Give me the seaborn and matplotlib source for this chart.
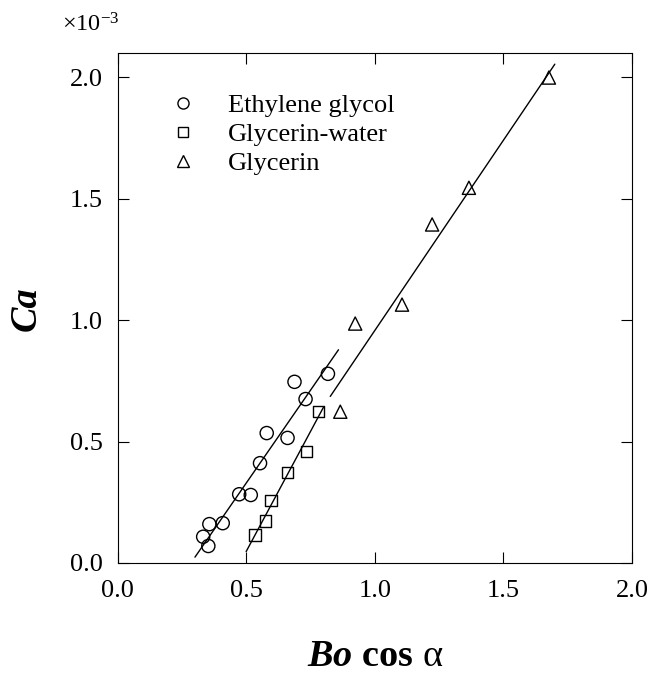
import matplotlib
matplotlib.use('Agg')
import matplotlib.pyplot as plt
import seaborn as sns
from matplotlib.lines import Line2D

# ---- data (Ca values in units of 1e-3) ----
eg_x = [0.818, 0.688, 0.731, 0.580, 0.661, 0.554, 0.473, 0.518, 0.357, 0.409, 0.333, 0.353]
eg_y = [0.779, 0.746, 0.675, 0.535, 0.515, 0.411, 0.283, 0.280, 0.160, 0.164, 0.108, 0.070]

gw_x = [0.535, 0.575, 0.597, 0.661, 0.734, 0.782]
gw_y = [0.114, 0.172, 0.257, 0.372, 0.459, 0.624]

gl_x = [0.866, 0.924, 1.106, 1.223, 1.366, 1.677]
gl_y = [0.623, 0.986, 1.064, 1.394, 1.545, 1.999]

# fitted lines (end points)
eg_line_x = [0.301, 0.859]
eg_line_y = [0.024, 0.878]
gw_line_x = [0.500, 0.801]
gw_line_y = [0.047, 0.642]
gl_line_x = [0.827, 1.700]
gl_line_y = [0.686, 2.054]

labels = ["Ethylene glycol", "Glycerin-water", "Glycerin"]
xticks = [0.0, 0.5, 1.0, 1.5, 2.0]
yticks = [0.0, 0.5, 1.0, 1.5, 2.0]

sns.set_theme(style='ticks')
plt.rcParams['font.family'] = ['Liberation Serif', 'DejaVu Serif']
plt.rcParams['mathtext.fontset'] = 'custom'
plt.rcParams['mathtext.rm'] = 'Liberation Serif'
plt.rcParams['mathtext.it'] = 'Liberation Serif:italic'
plt.rcParams['mathtext.bf'] = 'Liberation Serif:bold'
plt.rcParams['mathtext.bfit'] = 'Liberation Serif:italic:bold'
for k in ['text.color', 'axes.labelcolor', 'xtick.color', 'ytick.color',
          'axes.edgecolor']:
    plt.rcParams[k] = 'black'

fig = plt.figure(figsize=(6.5, 6.77), dpi=100)
ax = fig.add_axes([0.1808, 0.1684, 0.7915, 0.7533])

line_kw = dict(color='black', linewidth=1.0, ax=ax, legend=False)
sns.lineplot(x=eg_line_x, y=eg_line_y, **line_kw)
sns.lineplot(x=gw_line_x, y=gw_line_y, **line_kw)
sns.lineplot(x=gl_line_x, y=gl_line_y, **line_kw)

sc_kw = dict(facecolor='none', edgecolor='black', linewidth=1.0, ax=ax, legend=False, zorder=3)
sns.scatterplot(x=eg_x, y=eg_y, marker='o', s=90, **sc_kw)
sns.scatterplot(x=gw_x, y=gw_y, marker='s', s=70, **sc_kw)
sns.scatterplot(x=gl_x, y=gl_y, marker='^', s=90, **sc_kw)

ax.set_xlim(0, 2.0)
ax.set_ylim(0, 2.1)
ax.set_xticks(xticks)
ax.set_yticks(yticks)
ax.set_xticklabels([f"{v:.1f}" for v in xticks])
ax.set_yticklabels([f"{v:.1f}" for v in yticks])
ax.tick_params(direction='in', length=8, width=0.8, top=True, right=True,
               labelsize=19, colors='black')
ax.tick_params(axis='x', pad=12)
ax.tick_params(axis='y', pad=10.5)
for sp in ax.spines.values():
    sp.set_color('black')
    sp.set_linewidth(0.8)
ax.set_xlabel('')
ax.set_ylabel('')

handles = [
    Line2D([], [], marker='o', ls='none', mfc='none', mec='black', ms=8, mew=1.0),
    Line2D([], [], marker='s', ls='none', mfc='none', mec='black', ms=7, mew=1.0),
    Line2D([], [], marker='^', ls='none', mfc='none', mec='black', ms=8, mew=1.0),
]
ax.legend(handles, labels, loc='upper left', bbox_to_anchor=(0.1017, 0.92),
          frameon=False, fontsize=19, handlelength=1.0, handletextpad=1.2,
          labelspacing=0.2, borderaxespad=0, borderpad=0)

fig.text(375 / 650, 1 - 666 / 677, r'$\mathbfit{Bo}$ $\mathbf{cos}$ α',
         ha='center', va='baseline', fontsize=27.5)
fig.text(26 / 650, 1 - 308.5 / 677, 'Ca', rotation=90, ha='center', va='center',
         fontsize=27.5, fontweight='bold', fontstyle='italic')
fig.text(62 / 650, 1 - 32 / 677, r'$\times10^{-3}$', ha='left', va='baseline',
         fontsize=17.5)

fig.savefig('out.png', dpi=100)
